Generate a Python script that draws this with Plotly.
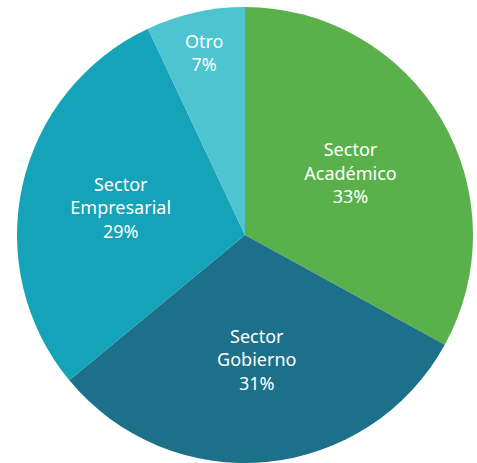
import plotly.graph_objects as go

# Participación por sector
sectores = ["Sector<br>Académico", "Sector<br>Gobierno", "Sector<br>Empresarial", "Otro"]
porcentajes = [33, 31, 29, 7]
colores = ["#5AB14C", "#1C7089", "#14A3B8", "#4EC4D0"]

fig = go.Figure(
    go.Pie(
        labels=sectores,
        values=porcentajes,
        sort=False,
        direction="clockwise",
        rotation=0,
        marker=dict(colors=colores, line=dict(width=0)),
        texttemplate="%{label}<br>%{percent:.0%}",
        textposition="inside",
        insidetextorientation="horizontal",
        textfont=dict(family="Noto Sans", size=18, color="white"),
        showlegend=False,
    )
)

fig.update_layout(
    width=477,
    height=463,
    margin=dict(l=16, r=3, t=7, b=0),
    paper_bgcolor="white",
    plot_bgcolor="white",
)

fig.write_html("out.html")
